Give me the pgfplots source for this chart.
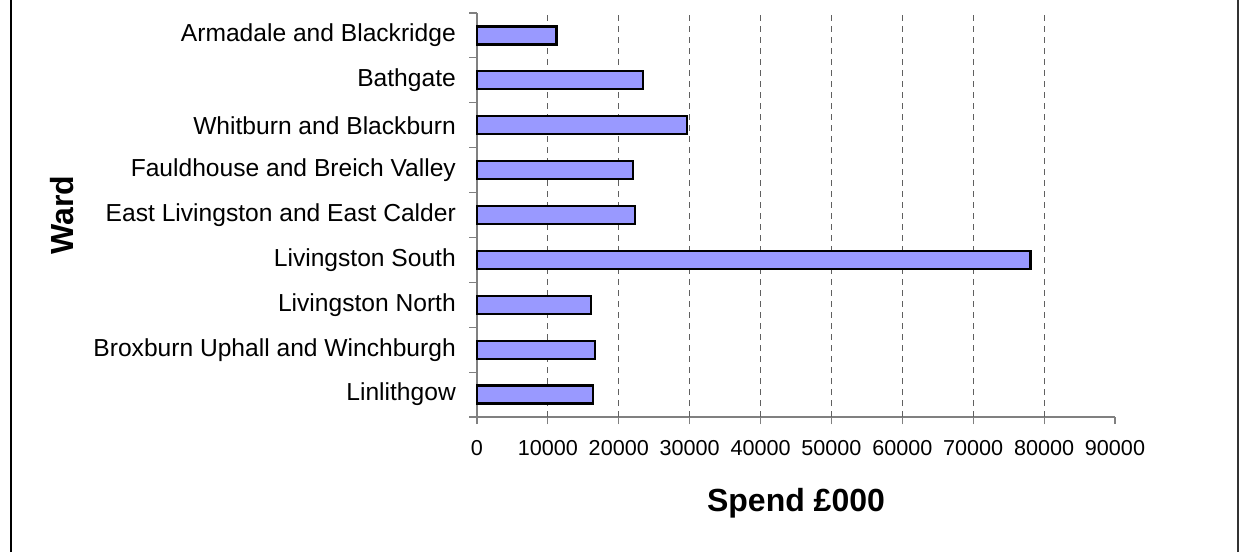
\documentclass[border=0pt]{standalone}
\usepackage{pgfplots}
\pgfplotsset{compat=1.18}
\usepackage{fontspec}
\setmainfont{Liberation Sans}
\definecolor{barfill}{HTML}{9999FF}
\definecolor{axgray}{HTML}{808080}
\definecolor{gridgray}{HTML}{606060}
\begin{document}
\begin{tikzpicture}
\useasboundingbox (0,0) rectangle (1239pt,552pt);
\begin{axis}[
    at={(477pt,135pt)}, anchor=south west,
    scale only axis,
    width=638pt, height=404pt,
    xbar, bar width=18pt,
    xmin=0, xmax=90000,
    ymin=-0.5, ymax=8.5,
    axis x line*=bottom, axis y line*=left,
    axis line style={axgray, line width=1.2pt, -},
    xtick={0,10000,...,90000},
    scaled x ticks=false,
    xticklabel style={font=\fontsize{21.6}{25}\selectfont, anchor=base, inner sep=0pt, yshift=-31pt},
    /pgf/number format/assume math mode=true,
    /pgf/number format/1000 sep={},
    ytick={0,...,8},
    yticklabels={Linlithgow, Broxburn Uphall and Winchburgh, Livingston North, Livingston South, East Livingston and East Calder, Fauldhouse and Breich Valley, Whitburn and Blackburn, Bathgate, Armadale and Blackridge},
    yticklabel style={font=\fontsize{24.6}{29}\selectfont, anchor=east, inner sep=0pt, xshift=-14pt},
    minor ytick={-0.5,0.5,...,8.5},
    tick align=outside,
    tick style={axgray, line width=1.2pt},
    major tick length=7pt,
    minor tick length=8pt,
    major y tick style={draw=none},
    extra x ticks={10000,20000,...,80000},
    extra x tick labels={},
    extra x tick style={grid=major},
    major grid style={gridgray, line width=1pt, dash pattern=on 6pt off 5pt},
    xlabel={\bfseries Spend £000},
    xlabel style={font=\fontsize{32}{37}\selectfont, at={(axis description cs:0.5,-0.2327)}, anchor=base},
    ylabel={\bfseries Ward},
    ylabel style={font=\fontsize{32}{37}\selectfont, at={(axis description cs:-0.633,0.5)}, anchor=base, rotate=0},
    clip=false,
]
\addplot[fill=barfill, draw=black, line width=2.3pt] coordinates {
    (16400,0)
    (16600,1)
    (16100,2)
    (78100,3)
    (22300,4)
    (22000,5)
    (29600,6)
    (23400,7)
    (11200,8)
};
\end{axis}
\draw[black, line width=2pt] (10.5pt,0) -- (10.5pt,552pt);
\draw[black!80, line width=2pt] (1238pt,0) -- (1238pt,552pt);
\end{tikzpicture}
\end{document}
